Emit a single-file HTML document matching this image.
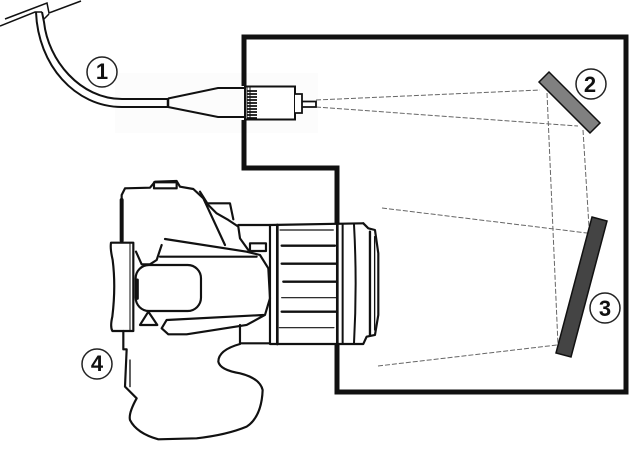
<!DOCTYPE html>
<html><head><meta charset="utf-8"><style>
html,body{margin:0;padding:0;background:#fff}
svg{display:block;filter:blur(.35px)}
text{font-family:"Liberation Sans",sans-serif;font-weight:bold;font-size:22px;fill:#111;text-anchor:middle}
</style></head><body>
<svg width="630" height="455" viewBox="0 0 630 455" xmlns="http://www.w3.org/2000/svg">
<rect width="630" height="455" fill="#fff"/>
<rect x="115" y="73" width="203" height="60" fill="#fcfcfc"/>
<!-- rays -->
<g fill="none" stroke="#666" stroke-width="1" stroke-dasharray="5 2">
<path d="M316 100L540 90M316 107L578 126M547 93L558 345M583 130L589 227M382 208L587 233M378 366L557 345"/>
</g>
<!-- box -->
<path d="M244 86V37H626V392H337V345M337 223V168H244V120" fill="none" stroke="#111" stroke-width="5" stroke-linejoin="miter"/>
<!-- mirrors -->
<polygon points="539,82 549,72 600,123 590,133" fill="#808080" stroke="#111" stroke-width="1.5"/>
<polygon points="592,217 607,221 571,357 556,353" fill="#444" stroke="#111" stroke-width="1.5"/>
<!-- fiber -->
<g fill="none" stroke="#111">
<path d="M36 12C38 65 75 107 122 107H168" stroke-width="2"/>
<path d="M42 12L44 22C48 60 80 99 122 99H168" stroke-width="2"/>
<path d="M5 19L47 3L49 13L81 1" stroke-width="1.500"/>
<path d="M0 26L35 12H42M43 20L49 14" stroke-width="1.500"/>
<path d="M168 98V107" stroke-width="2.500"/>
<path d="M168 98.500L218 88H244M168 107L218 117H244" stroke-width="2"/>
<rect x="245" y="86.500" width="50" height="33" fill="#fff" stroke-width="2"/>
<path d="M295 94H302V113H295M302 101.500H316V107H302" fill="#fff" stroke-width="1.800"/>
<path d="M247 87V119M250 87V119" stroke-width="1"/>
<path d="M247 91H257M247 94H257M247 97H257M247 100H257M247 103H257M247 106H257M247 109H257M247 112H257M247 115H257M247 118H257" stroke-width="1.800"/>
</g>
<!-- camera -->
<g transform="translate(80 170) scale(.3333)" fill="none" stroke="#111" stroke-width="6.500" stroke-linejoin="round" stroke-linecap="round">
<path d="M125 212V75L135 55L210 53L225 35L290 33L300 50L340 57L370 85L435 225" fill="#fff" stroke="none"/>
<path d="M125 212V75L135 55L210 53L225 35L290 33L300 50L340 57L370 85L435 225"/>
<path d="M125 212V90" stroke-width="12"/>
<path d="M222 37H290V55H222Z"/>
<path d="M385 100H450L460 148M360 65L385 105L410 130L445 150L475 170L480 205L505 240M475 165H570L850 160"/>
<path d="M93 218H160V483H97Q90 470 97 440Q108 350 98 270Q90 235 93 218Z" fill="#fff"/>
<path d="M150 220V480" stroke-width="3"/>
<path d="M255 207L500 245L540 255L565 295L570 385L555 435L500 465L320 493H265L245 475L260 450L550 435"/>
<path d="M240 260H530M245 225L230 270L210 283H185L168 245"/>
<rect x="167" y="285" width="196" height="138" rx="40"/>
<path d="M172 330V385" stroke-width="9"/>
<path d="M180 465L205 425L232 465Z"/>
<path d="M510 220H558V243H510Z" fill="#fff"/>
<path d="M480 465V520H570"/>
<path d="M130 483V538H140L135 650L170 685Q145 730 150 750Q170 790 235 808L350 805Q440 795 500 770Q545 740 548 660Q540 625 480 610Q420 600 415 575Q415 540 480 522"/>
<path d="M150 570V650" stroke-width="4"/>
<path d="M570 165V522H850L860 500L885 495L895 435V250L885 180L865 175L850 160"/>
<path d="M592 165V522M772 160V522" stroke-width="8"/>
<path d="M788 162V522M822 162Q832 340 822 522" stroke-width="6"/>
<path d="M870 185V495" stroke-width="7"/>
<path d="M884 200V480" stroke-width="4"/>
<path d="M600 180H760M605 383H772M598 473H762" stroke-width="3.500"/>
<path d="M605 227H765M605 281H768M610 335H768M605 425H768" stroke-width="7"/>
</g>
<!-- labels -->
<g fill="#fff" stroke="#222" stroke-width="1.500">
<circle cx="102" cy="72" r="15"/><circle cx="591" cy="84" r="15"/><circle cx="605" cy="308" r="15"/><circle cx="97" cy="364" r="15"/>
</g>
<text x="102" y="79">1</text><text x="590" y="92">2</text><text x="605" y="316">3</text><text x="97" y="371">4</text>
</svg>
</body></html>
